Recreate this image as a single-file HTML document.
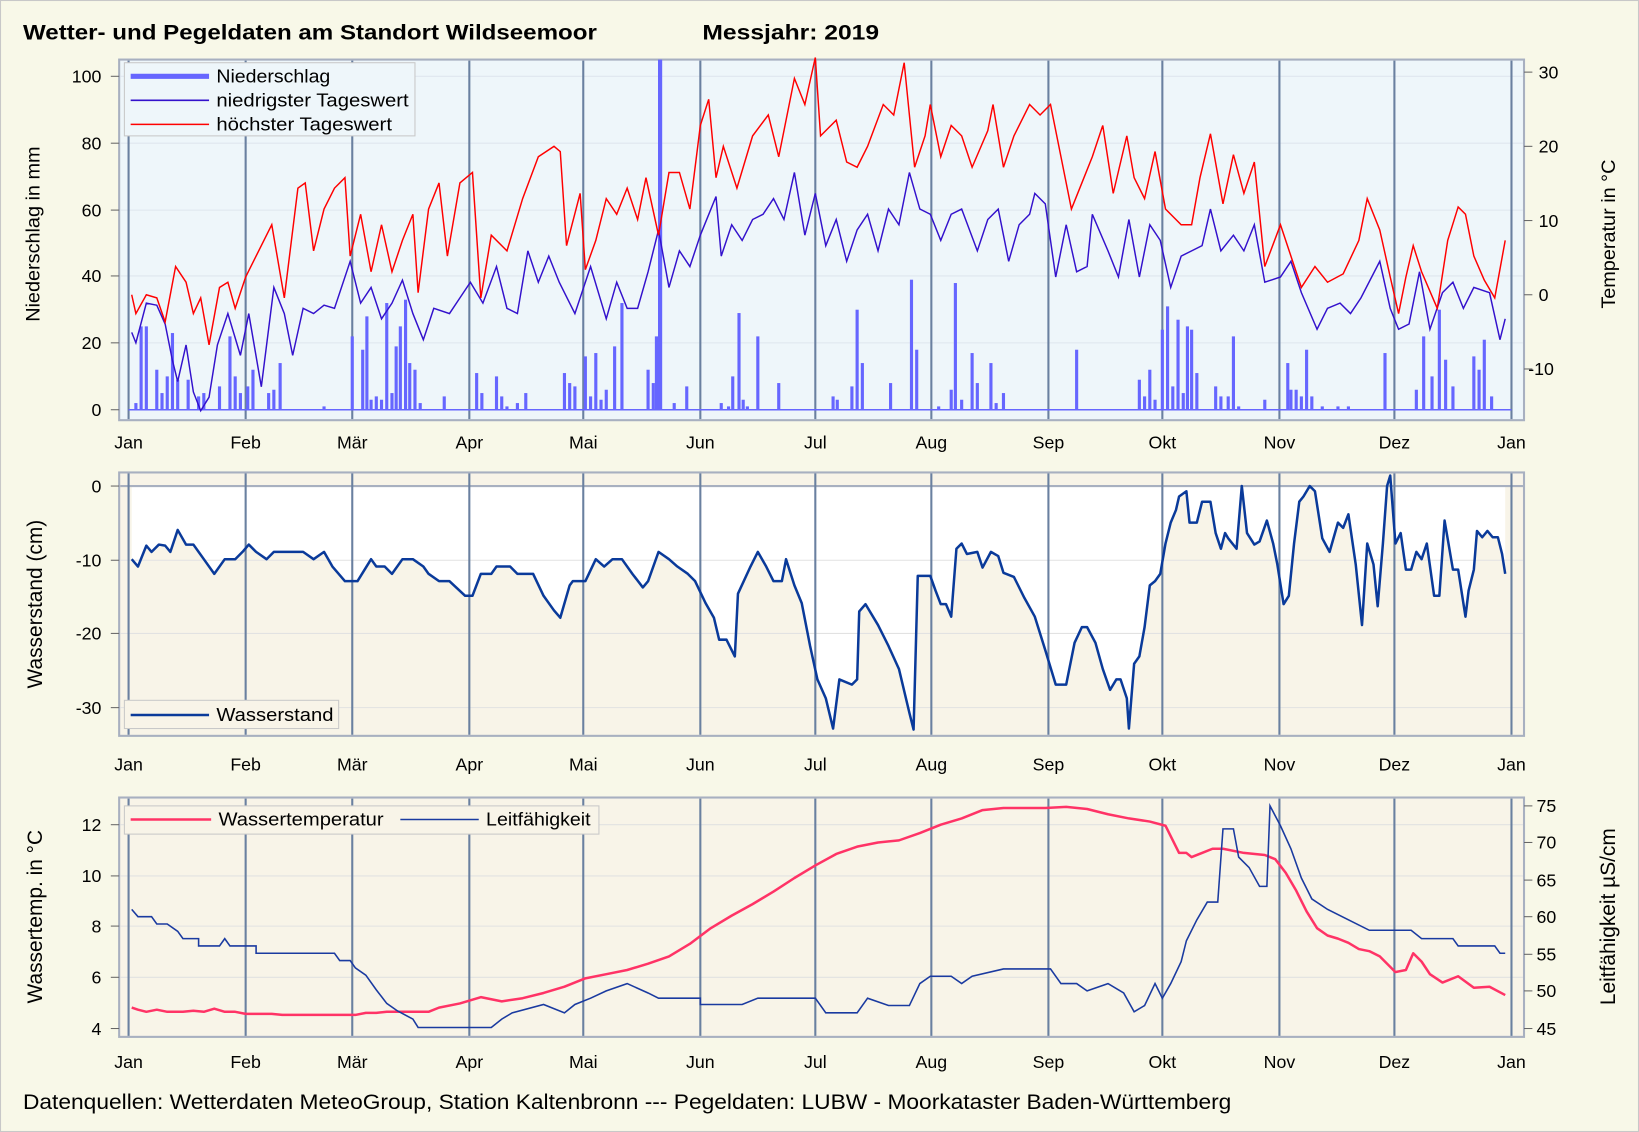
<!DOCTYPE html>
<html><head><meta charset="utf-8"><style>
html,body{margin:0;padding:0;background:#f8f8e8;}
svg{display:block;}
text{font-family:"Liberation Sans",sans-serif;fill:#000;}
</style></head><body>
<svg width="1639" height="1132" viewBox="0 0 1568 1083" preserveAspectRatio="none" xmlns="http://www.w3.org/2000/svg">
<rect x="0.5" y="0.5" width="1567" height="1082" fill="#f8f8e8" stroke="#c8c8c8"/>
<text x="22" y="38" font-size="20" font-weight="bold" textLength="549" lengthAdjust="spacingAndGlyphs">Wetter- und Pegeldaten am Standort Wildseemoor</text>
<text x="672" y="38" font-size="20" font-weight="bold" textLength="169" lengthAdjust="spacingAndGlyphs">Messjahr:  2019</text>

<!-- PANEL 1 -->
<rect x="114" y="57" width="1344" height="345" fill="#eef6fa" stroke="#a8b0c0" stroke-width="2"/>
<g stroke="#dfe6ee" stroke-width="1">
<line x1="115" x2="1457" y1="328" y2="328"/><line x1="115" x2="1457" y1="264" y2="264"/><line x1="115" x2="1457" y1="201" y2="201"/><line x1="115" x2="1457" y1="137" y2="137"/><line x1="115" x2="1457" y1="73" y2="73"/>
</g>
<g stroke="#6a80a0" stroke-width="2">
<line x1="123" x2="123" y1="58" y2="401"/><line x1="235" x2="235" y1="58" y2="401"/><line x1="337" x2="337" y1="58" y2="401"/><line x1="449" x2="449" y1="58" y2="401"/><line x1="558" x2="558" y1="58" y2="401"/><line x1="670" x2="670" y1="58" y2="401"/><line x1="780" x2="780" y1="58" y2="401"/><line x1="891" x2="891" y1="58" y2="401"/><line x1="1003" x2="1003" y1="58" y2="401"/><line x1="1112" x2="1112" y1="58" y2="401"/><line x1="1224" x2="1224" y1="58" y2="401"/><line x1="1334" x2="1334" y1="58" y2="401"/><line x1="1446" x2="1446" y1="58" y2="401"/>
</g>
<g transform="translate(0,392) scale(1,-3.19)" fill="#6666ff">
<rect x="128.5" y="0" width="3" height="2"/><rect x="133.5" y="0" width="3" height="25"/><rect x="138.5" y="0" width="3" height="25"/><rect x="148.5" y="0" width="3" height="12"/><rect x="153.5" y="0" width="3" height="5"/><rect x="158.5" y="0" width="3" height="10"/><rect x="163.5" y="0" width="3" height="23"/><rect x="168.5" y="0" width="3" height="9"/><rect x="178.5" y="0" width="3" height="9"/><rect x="188.5" y="0" width="3" height="4"/><rect x="193.5" y="0" width="3" height="5"/><rect x="208.5" y="0" width="3" height="7"/><rect x="218.5" y="0" width="3" height="22"/><rect x="223.5" y="0" width="3" height="10"/><rect x="228.5" y="0" width="3" height="5"/><rect x="235.5" y="0" width="3" height="7"/><rect x="240.5" y="0" width="3" height="12"/><rect x="255.5" y="0" width="3" height="5"/><rect x="260.5" y="0" width="3" height="6"/><rect x="266.5" y="0" width="3" height="14"/><rect x="308.5" y="0" width="3" height="1"/><rect x="335.5" y="0" width="3" height="22"/><rect x="345.5" y="0" width="3" height="18"/><rect x="349.5" y="0" width="3" height="28"/><rect x="353.5" y="0" width="3" height="3"/><rect x="358.5" y="0" width="3" height="4"/><rect x="363.5" y="0" width="3" height="3"/><rect x="368.5" y="0" width="3" height="32"/><rect x="373.5" y="0" width="3" height="5"/><rect x="377.5" y="0" width="3" height="19"/><rect x="381.5" y="0" width="3" height="25"/><rect x="386.5" y="0" width="3" height="33"/><rect x="390.5" y="0" width="3" height="14"/><rect x="395.5" y="0" width="3" height="12"/><rect x="400.5" y="0" width="3" height="2"/><rect x="423.5" y="0" width="3" height="4"/><rect x="454.5" y="0" width="3" height="11"/><rect x="459.5" y="0" width="3" height="5"/><rect x="473.5" y="0" width="3" height="10"/><rect x="478.5" y="0" width="3" height="4"/><rect x="483.5" y="0" width="3" height="1"/><rect x="493.5" y="0" width="3" height="2"/><rect x="501.5" y="0" width="3" height="5"/><rect x="538.5" y="0" width="3" height="11"/><rect x="543.5" y="0" width="3" height="8"/><rect x="548.5" y="0" width="3" height="7"/><rect x="558.5" y="0" width="3" height="16"/><rect x="563.5" y="0" width="3" height="4"/><rect x="568.5" y="0" width="3" height="17"/><rect x="573.5" y="0" width="3" height="3"/><rect x="578.5" y="0" width="3" height="6"/><rect x="586.5" y="0" width="3" height="19"/><rect x="593.5" y="0" width="3" height="32"/><rect x="618.5" y="0" width="3" height="12"/><rect x="623.5" y="0" width="3" height="8"/><rect x="626.5" y="0" width="3" height="22"/><rect x="629.5" y="0" width="4" height="105"/><rect x="643.5" y="0" width="3" height="2"/><rect x="655.5" y="0" width="3" height="7"/><rect x="688.5" y="0" width="3" height="2"/><rect x="695.5" y="0" width="3" height="1"/><rect x="699.5" y="0" width="3" height="10"/><rect x="705.5" y="0" width="3" height="29"/><rect x="709.5" y="0" width="3" height="3"/><rect x="713.5" y="0" width="3" height="1"/><rect x="723.5" y="0" width="3" height="22"/><rect x="743.5" y="0" width="3" height="8"/><rect x="795.5" y="0" width="3" height="4"/><rect x="799.5" y="0" width="3" height="3"/><rect x="813.5" y="0" width="3" height="7"/><rect x="818.5" y="0" width="3" height="30"/><rect x="823.5" y="0" width="3" height="14"/><rect x="850.5" y="0" width="3" height="8"/><rect x="870.5" y="0" width="3" height="39"/><rect x="875.5" y="0" width="3" height="18"/><rect x="896.5" y="0" width="3" height="1"/><rect x="908.5" y="0" width="3" height="6"/><rect x="912.5" y="0" width="3" height="38"/><rect x="918.5" y="0" width="3" height="3"/><rect x="928.5" y="0" width="3" height="17"/><rect x="933.5" y="0" width="3" height="8"/><rect x="946.5" y="0" width="3" height="14"/><rect x="951.5" y="0" width="3" height="2"/><rect x="958.5" y="0" width="3" height="5"/><rect x="1028.5" y="0" width="3" height="18"/><rect x="1088.5" y="0" width="3" height="9"/><rect x="1093.5" y="0" width="3" height="4"/><rect x="1098.5" y="0" width="3" height="12"/><rect x="1103.5" y="0" width="3" height="3"/><rect x="1110.5" y="0" width="3" height="24"/><rect x="1115.5" y="0" width="3" height="31"/><rect x="1120.5" y="0" width="3" height="7"/><rect x="1125.5" y="0" width="3" height="27"/><rect x="1130.5" y="0" width="3" height="5"/><rect x="1134.5" y="0" width="3" height="25"/><rect x="1138.5" y="0" width="3" height="24"/><rect x="1143.5" y="0" width="3" height="11"/><rect x="1161.5" y="0" width="3" height="7"/><rect x="1166.5" y="0" width="3" height="4"/><rect x="1173.5" y="0" width="3" height="4"/><rect x="1178.5" y="0" width="3" height="22"/><rect x="1183.5" y="0" width="3" height="1"/><rect x="1208.5" y="0" width="3" height="3"/><rect x="1230.5" y="0" width="3" height="14"/><rect x="1233.5" y="0" width="3" height="6"/><rect x="1238.5" y="0" width="3" height="6"/><rect x="1243.5" y="0" width="3" height="4"/><rect x="1248.5" y="0" width="3" height="18"/><rect x="1253.5" y="0" width="3" height="4"/><rect x="1263.5" y="0" width="3" height="1"/><rect x="1278.5" y="0" width="3" height="1"/><rect x="1288.5" y="0" width="3" height="1"/><rect x="1323.5" y="0" width="3" height="17"/><rect x="1353.5" y="0" width="3" height="6"/><rect x="1360.5" y="0" width="3" height="22"/><rect x="1368.5" y="0" width="3" height="10"/><rect x="1375.5" y="0" width="3" height="30"/><rect x="1381.5" y="0" width="3" height="15"/><rect x="1388.5" y="0" width="3" height="7"/><rect x="1408.5" y="0" width="3" height="16"/><rect x="1413.5" y="0" width="3" height="12"/><rect x="1418.5" y="0" width="3" height="21"/><rect x="1425.5" y="0" width="3" height="4"/>
</g>
<line x1="123" x2="1446" y1="392" y2="392" stroke="#6666ff" stroke-width="1.5"/>
<polyline fill="none" stroke="#3311cc" stroke-width="1.4" points="126,318 130,328 140,290 150,292 158,310 165,345 170,365 178,330 185,375 192,393 200,380 208,330 218,300 230,340 238,300 250,370 262,275 272,300 280,340 290,295 300,300 310,292 320,295 335,250 345,290 355,275 365,305 375,290 385,268 395,300 405,325 415,295 430,300 440,285 450,270 462,290 475,255 485,295 495,300 505,240 515,270 525,245 535,270 550,300 565,255 580,305 590,270 600,295 610,295 620,260 630,220 640,275 650,240 660,255 670,225 685,188 690,245 700,215 710,230 720,210 730,205 740,190 750,210 760,165 770,225 780,185 790,235 800,210 810,250 820,220 830,205 840,240 850,200 860,215 870,165 880,200 890,205 900,230 910,205 920,200 935,240 945,210 955,200 965,250 975,215 985,205 990,185 1000,195 1010,265 1020,215 1030,260 1040,255 1045,205 1060,240 1070,265 1080,210 1090,265 1100,215 1110,230 1120,275 1130,245 1140,240 1150,235 1158,200 1168,240 1180,225 1190,240 1200,215 1210,270 1225,265 1235,250 1245,280 1260,315 1270,295 1282,290 1292,300 1302,285 1320,250 1330,295 1338,315 1348,310 1358,260 1368,315 1380,280 1390,270 1400,295 1410,275 1425,280 1435,325 1440,305"/>
<polyline fill="none" stroke="#ff0000" stroke-width="1.4" points="126,282 130,300 140,282 150,285 158,308 168,255 178,270 185,300 192,285 200,330 210,275 218,270 225,295 235,265 245,245 260,215 272,285 285,180 292,175 300,240 310,200 320,180 330,170 335,245 345,205 355,260 365,215 375,260 385,230 395,205 400,280 410,200 420,175 428,245 440,175 452,165 460,285 470,225 485,240 500,190 515,150 530,140 536,145 542,235 555,185 560,258 570,230 580,190 590,205 600,180 610,210 618,170 630,225 640,165 650,165 660,200 670,120 678,95 685,170 692,140 705,180 720,130 735,110 745,150 760,75 770,100 780,55 785,130 800,115 810,155 820,160 830,140 845,100 855,110 865,60 875,160 885,130 890,100 900,150 910,120 920,130 930,160 945,125 950,100 960,160 970,130 985,100 995,110 1005,100 1015,150 1025,200 1035,175 1045,150 1055,120 1065,185 1078,130 1085,170 1095,190 1105,145 1115,200 1130,215 1140,215 1148,170 1158,128 1170,195 1180,148 1190,185 1200,155 1210,255 1225,215 1235,245 1245,275 1258,255 1270,270 1285,262 1300,230 1308,190 1320,220 1330,265 1338,300 1345,265 1352,235 1360,260 1375,295 1385,230 1395,198 1402,205 1410,245 1420,268 1430,285 1440,230"/>
<rect x="119" y="60" width="278" height="70" fill="#eef6fa" stroke="#c8c8c8"/>
<line x1="125" x2="200" y1="73" y2="73" stroke="#6666ff" stroke-width="5"/>
<line x1="125" x2="200" y1="96" y2="96" stroke="#3311cc" stroke-width="1.5"/>
<line x1="125" x2="200" y1="119" y2="119" stroke="#ff0000" stroke-width="1.5"/>
<text x="207" y="79" font-size="18" textLength="109" lengthAdjust="spacingAndGlyphs">Niederschlag</text>
<text x="207" y="102" font-size="18" textLength="184" lengthAdjust="spacingAndGlyphs">niedrigster Tageswert</text>
<text x="207" y="125" font-size="18" textLength="168" lengthAdjust="spacingAndGlyphs">höchster Tageswert</text>
<g font-size="17" text-anchor="end">
<text x="97" y="398">0</text><text x="97" y="334">20</text><text x="97" y="270">40</text><text x="97" y="207">60</text><text x="97" y="143">80</text><text x="97" y="79">100</text>
</g>
<g stroke="#666"><line x1="106" x2="114" y1="392" y2="392"/><line x1="106" x2="114" y1="328" y2="328"/><line x1="106" x2="114" y1="264" y2="264"/><line x1="106" x2="114" y1="201" y2="201"/><line x1="106" x2="114" y1="137" y2="137"/><line x1="106" x2="114" y1="73" y2="73"/>
<line x1="1458" x2="1466" y1="69" y2="69"/><line x1="1458" x2="1466" y1="140" y2="140"/><line x1="1458" x2="1466" y1="211" y2="211"/><line x1="1458" x2="1466" y1="282" y2="282"/><line x1="1458" x2="1466" y1="353" y2="353"/></g>
<g font-size="17"><text x="1472" y="75">30</text><text x="1472" y="146">20</text><text x="1472" y="217">10</text><text x="1472" y="288">0</text><text x="1462" y="359">-10</text></g>
<text transform="translate(38,224) rotate(-90)" font-size="19" text-anchor="middle">Niederschlag in mm</text>
<text transform="translate(1545,224) rotate(-90)" font-size="19" text-anchor="middle">Temperatur in °C</text>
<g font-size="17" text-anchor="middle">
<text x="123" y="429">Jan</text><text x="235" y="429">Feb</text><text x="337" y="429">Mär</text><text x="449" y="429">Apr</text><text x="558" y="429">Mai</text><text x="670" y="429">Jun</text><text x="780" y="429">Jul</text><text x="891" y="429">Aug</text><text x="1003" y="429">Sep</text><text x="1112" y="429">Okt</text><text x="1224" y="429">Nov</text><text x="1334" y="429">Dez</text><text x="1446" y="429">Jan</text>
</g>

<!-- PANEL 2 -->
<rect x="114" y="452" width="1344" height="252" fill="#f8f4e8" stroke="#a8b0c0" stroke-width="2"/>
<polygon fill="#ffffff" points="126,465 126,535 132,542 140,522 145,528 152,521 158,522 163,528 170,507 178,521 185,521 190,528 195,535 205,549 215,535 225,535 232,528 238,521 245,528 255,535 262,528 290,528 300,535 310,528 318,542 330,556 342,556 355,535 360,542 368,542 375,549 385,535 395,535 405,542 410,549 420,556 430,556 445,570 452,570 460,549 470,549 475,542 488,542 495,549 510,549 520,570 530,584 536,591 545,560 548,556 560,556 570,535 578,542 586,535 595,535 605,549 615,562 620,556 630,528 640,535 648,542 658,549 665,556 675,577 683,591 688,612 695,612 703,628 706,568 718,542 725,528 733,542 740,556 748,556 752,535 760,560 767,577 775,618 782,650 790,668 797,697 803,650 815,655 820,650 822,585 828,578 840,598 850,618 860,640 870,682 874,698 878,551 890,551 895,565 900,578 905,578 910,590 915,525 920,520 925,530 935,528 940,543 948,528 955,532 960,548 970,552 980,572 990,590 1000,622 1010,655 1020,655 1028,615 1035,600 1040,600 1048,615 1055,640 1062,660 1068,650 1072,650 1078,668 1080,697 1085,635 1090,628 1095,600 1100,560 1105,556 1110,549 1115,520 1120,500 1125,488 1128,475 1135,470 1138,500 1145,500 1150,480 1158,480 1163,510 1168,525 1172,510 1175,515 1183,525 1188,465 1193,510 1200,521 1205,518 1212,498 1218,520 1222,540 1228,578 1233,570 1238,520 1243,480 1247,475 1253,465 1258,470 1265,515 1272,528 1280,500 1285,505 1290,492 1297,540 1303,598 1308,520 1314,540 1318,580 1323,520 1327,465 1330,465 1335,520 1340,510 1345,545 1350,545 1355,528 1360,535 1365,520 1372,570 1377,570 1382,498 1390,545 1395,545 1402,590 1405,565 1410,545 1413,508 1418,514 1423,508 1428,514 1433,514 1437,530 1440,549 1440,465"/>
<g stroke="#e2e2e2" stroke-width="1"><line x1="115" x2="1457" y1="536" y2="536"/><line x1="115" x2="1457" y1="606" y2="606"/><line x1="115" x2="1457" y1="677" y2="677"/></g>
<line x1="115" x2="1457" y1="465" y2="465" stroke="#a8b0c0" stroke-width="2"/>
<g stroke="#6a80a0" stroke-width="2">
<line x1="123" x2="123" y1="453" y2="703"/><line x1="235" x2="235" y1="453" y2="703"/><line x1="337" x2="337" y1="453" y2="703"/><line x1="449" x2="449" y1="453" y2="703"/><line x1="558" x2="558" y1="453" y2="703"/><line x1="670" x2="670" y1="453" y2="703"/><line x1="780" x2="780" y1="453" y2="703"/><line x1="891" x2="891" y1="453" y2="703"/><line x1="1003" x2="1003" y1="453" y2="703"/><line x1="1112" x2="1112" y1="453" y2="703"/><line x1="1224" x2="1224" y1="453" y2="703"/><line x1="1334" x2="1334" y1="453" y2="703"/><line x1="1446" x2="1446" y1="453" y2="703"/>
</g>
<polyline fill="none" stroke="#0a3a9a" stroke-width="2.4" stroke-linejoin="round" points="126,535 132,542 140,522 145,528 152,521 158,522 163,528 170,507 178,521 185,521 190,528 195,535 205,549 215,535 225,535 232,528 238,521 245,528 255,535 262,528 290,528 300,535 310,528 318,542 330,556 342,556 355,535 360,542 368,542 375,549 385,535 395,535 405,542 410,549 420,556 430,556 445,570 452,570 460,549 470,549 475,542 488,542 495,549 510,549 520,570 530,584 536,591 545,560 548,556 560,556 570,535 578,542 586,535 595,535 605,549 615,562 620,556 630,528 640,535 648,542 658,549 665,556 675,577 683,591 688,612 695,612 703,628 706,568 718,542 725,528 733,542 740,556 748,556 752,535 760,560 767,577 775,618 782,650 790,668 797,697 803,650 815,655 820,650 822,585 828,578 840,598 850,618 860,640 870,682 874,698 878,551 890,551 895,565 900,578 905,578 910,590 915,525 920,520 925,530 935,528 940,543 948,528 955,532 960,548 970,552 980,572 990,590 1000,622 1010,655 1020,655 1028,615 1035,600 1040,600 1048,615 1055,640 1062,660 1068,650 1072,650 1078,668 1080,697 1085,635 1090,628 1095,600 1100,560 1105,556 1110,549 1115,520 1120,500 1125,488 1128,475 1135,470 1138,500 1145,500 1150,480 1158,480 1163,510 1168,525 1172,510 1175,515 1183,525 1188,465 1193,510 1200,521 1205,518 1212,498 1218,520 1222,540 1228,578 1233,570 1238,520 1243,480 1247,475 1253,465 1258,470 1265,515 1272,528 1280,500 1285,505 1290,492 1297,540 1303,598 1308,520 1314,540 1318,580 1323,520 1327,465 1330,455 1335,520 1340,510 1345,545 1350,545 1355,528 1360,535 1365,520 1372,570 1377,570 1382,498 1390,545 1395,545 1402,590 1405,565 1410,545 1413,508 1418,514 1423,508 1428,514 1433,514 1437,530 1440,549"/>
<rect x="119" y="670" width="205" height="27" fill="#f8f4e8" stroke="#c8c8c8"/>
<line x1="125" x2="200" y1="684" y2="684" stroke="#0a3a9a" stroke-width="2.4"/>
<text x="207" y="690" font-size="18" textLength="112" lengthAdjust="spacingAndGlyphs">Wasserstand</text>
<g stroke="#666"><line x1="106" x2="114" y1="465" y2="465"/><line x1="106" x2="114" y1="536" y2="536"/><line x1="106" x2="114" y1="606" y2="606"/><line x1="106" x2="114" y1="677" y2="677"/></g>
<g font-size="17" text-anchor="end"><text x="97" y="471">0</text><text x="97" y="542">-10</text><text x="97" y="612">-20</text><text x="97" y="683">-30</text></g>
<text transform="translate(40,578) rotate(-90)" font-size="20" text-anchor="middle">Wasserstand (cm)</text>
<g font-size="17" text-anchor="middle">
<text x="123" y="737">Jan</text><text x="235" y="737">Feb</text><text x="337" y="737">Mär</text><text x="449" y="737">Apr</text><text x="558" y="737">Mai</text><text x="670" y="737">Jun</text><text x="780" y="737">Jul</text><text x="891" y="737">Aug</text><text x="1003" y="737">Sep</text><text x="1112" y="737">Okt</text><text x="1224" y="737">Nov</text><text x="1334" y="737">Dez</text><text x="1446" y="737">Jan</text>
</g>

<!-- PANEL 3 -->
<rect x="114" y="763" width="1344" height="229" fill="#f8f4e8" stroke="#a8b0c0" stroke-width="2"/>
<g stroke="#e2e2e2" stroke-width="1"><line x1="115" x2="1457" y1="935" y2="935"/><line x1="115" x2="1457" y1="886" y2="886"/><line x1="115" x2="1457" y1="838" y2="838"/><line x1="115" x2="1457" y1="789" y2="789"/></g>
<g stroke="#6a80a0" stroke-width="2">
<line x1="123" x2="123" y1="764" y2="991"/><line x1="235" x2="235" y1="764" y2="991"/><line x1="337" x2="337" y1="764" y2="991"/><line x1="449" x2="449" y1="764" y2="991"/><line x1="558" x2="558" y1="764" y2="991"/><line x1="670" x2="670" y1="764" y2="991"/><line x1="780" x2="780" y1="764" y2="991"/><line x1="891" x2="891" y1="764" y2="991"/><line x1="1003" x2="1003" y1="764" y2="991"/><line x1="1112" x2="1112" y1="764" y2="991"/><line x1="1224" x2="1224" y1="764" y2="991"/><line x1="1334" x2="1334" y1="764" y2="991"/><line x1="1446" x2="1446" y1="764" y2="991"/>
</g>
<polyline fill="none" stroke="#ff3366" stroke-width="2.4" stroke-linejoin="round" points="126,964 132,966 140,968 150,966 160,968 175,968 185,967 195,968 205,965 215,968 225,968 235,970 260,970 270,971 340,971 350,969 360,969 370,968 410,968 420,964 440,960 460,954 480,958 500,955 520,950 540,944 560,936 580,932 600,928 620,922 640,915 660,903 680,888 700,876 720,865 740,853 760,840 780,828 800,817 820,810 840,806 860,804 880,797 900,789 920,783 940,775 960,773 1000,773 1020,772 1040,774 1060,779 1080,783 1100,786 1115,790 1120,800 1128,816 1135,816 1140,820 1150,816 1160,812 1170,812 1190,816 1210,818 1220,822 1230,835 1240,852 1250,872 1260,888 1270,895 1280,898 1290,902 1300,908 1310,910 1320,915 1330,925 1335,930 1345,928 1352,912 1360,920 1368,932 1380,940 1395,934 1410,945 1425,944 1440,952"/>
<polyline fill="none" stroke="#1a3aa0" stroke-width="1.5" points="126,870 132,877 145,877 150,884 160,884 170,891 175,898 190,898 190,905 210,905 215,898 220,905 245,905 245,912 320,912 325,919 335,919 340,926 350,933 360,947 370,960 380,967 395,975 400,983 470,983 480,975 490,969 520,961 540,969 550,961 565,955 580,948 600,941 620,950 630,955 670,955 670,961 710,961 725,955 780,955 790,969 820,969 830,955 850,962 870,962 880,941 890,934 910,934 920,941 930,934 960,927 1005,927 1015,941 1030,941 1040,948 1060,941 1075,950 1085,968 1095,962 1105,941 1112,955 1120,941 1130,920 1135,900 1145,880 1155,863 1165,863 1170,793 1180,793 1185,820 1195,830 1205,848 1212,848 1215,771 1225,790 1235,812 1245,840 1255,860 1270,870 1290,880 1310,890 1350,890 1360,898 1390,898 1395,905 1430,905 1435,912 1440,912"/>
<rect x="119" y="771" width="454" height="27" fill="#f8f4e8" stroke="#c8c8c8"/>
<line x1="125" x2="202" y1="784" y2="784" stroke="#ff3366" stroke-width="2.4"/>
<text x="209" y="790" font-size="18" textLength="158" lengthAdjust="spacingAndGlyphs">Wassertemperatur</text>
<line x1="383" x2="458" y1="784" y2="784" stroke="#1a3aa0" stroke-width="1.5"/>
<text x="465" y="790" font-size="18" textLength="100" lengthAdjust="spacingAndGlyphs">Leitfähigkeit</text>
<g stroke="#666"><line x1="106" x2="114" y1="984" y2="984"/><line x1="106" x2="114" y1="935" y2="935"/><line x1="106" x2="114" y1="886" y2="886"/><line x1="106" x2="114" y1="838" y2="838"/><line x1="106" x2="114" y1="789" y2="789"/>
<line x1="1458" x2="1466" y1="984" y2="984"/><line x1="1458" x2="1466" y1="948" y2="948"/><line x1="1458" x2="1466" y1="913" y2="913"/><line x1="1458" x2="1466" y1="877" y2="877"/><line x1="1458" x2="1466" y1="842" y2="842"/><line x1="1458" x2="1466" y1="806" y2="806"/><line x1="1458" x2="1466" y1="771" y2="771"/></g>
<g font-size="17" text-anchor="end"><text x="97" y="990">4</text><text x="97" y="941">6</text><text x="97" y="892">8</text><text x="97" y="844">10</text><text x="97" y="795">12</text></g>
<g font-size="17"><text x="1470" y="990">45</text><text x="1470" y="954">50</text><text x="1470" y="919">55</text><text x="1470" y="883">60</text><text x="1470" y="848">65</text><text x="1470" y="812">70</text><text x="1470" y="777">75</text></g>
<text transform="translate(40,877) rotate(-90)" font-size="20" text-anchor="middle">Wassertemp. in °C</text>
<text transform="translate(1545,877) rotate(-90)" font-size="20" text-anchor="middle">Leitfähigkeit µS/cm</text>
<g font-size="17" text-anchor="middle">
<text x="123" y="1022">Jan</text><text x="235" y="1022">Feb</text><text x="337" y="1022">Mär</text><text x="449" y="1022">Apr</text><text x="558" y="1022">Mai</text><text x="670" y="1022">Jun</text><text x="780" y="1022">Jul</text><text x="891" y="1022">Aug</text><text x="1003" y="1022">Sep</text><text x="1112" y="1022">Okt</text><text x="1224" y="1022">Nov</text><text x="1334" y="1022">Dez</text><text x="1446" y="1022">Jan</text>
</g>
<text x="22" y="1061" font-size="20" textLength="1156" lengthAdjust="spacingAndGlyphs">Datenquellen: Wetterdaten MeteoGroup, Station Kaltenbronn --- Pegeldaten:  LUBW - Moorkataster Baden-Württemberg</text>
</svg>
</body></html>
